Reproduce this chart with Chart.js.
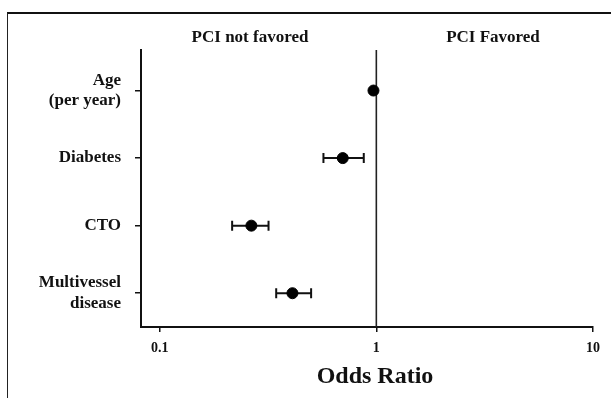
<!DOCTYPE html>
<html>
<head>
<meta charset="utf-8">
<style>
    html, body { margin: 0; padding: 0; background: #fff; }
    #frame {
        position: absolute; left: 7px; top: 12px; right: 0; bottom: 0;
        border-top: 2px solid #111; border-left: 1.5px solid #222;
    }
    #wrap { position: absolute; left: 0; top: 0; width: 611px; height: 398px; }
</style>
<script src="https://cdn.jsdelivr.net/npm/chart.js"></script>
</head>
<body>
<div id="frame"></div>
<div id="wrap"><canvas id="grafico"></canvas></div>
<script>
    // Fatores e odds ratios
    var fatores = [['Age', '(per year)'], 'Diabetes', 'CTO', ['Multivessel', 'disease']];
    var oddsRatio = [0.97, 0.70, 0.265, 0.41];
    var icInferior = [0.97, 0.57, 0.216, 0.345];
    var icSuperior = [0.97, 0.875, 0.318, 0.50];
    var ticksX = [0.1, 1, 10];

    var fonte = 'Liberation Serif, Times New Roman, serif';

    var pontos = oddsRatio.map(function(v, i) { return { x: v, y: i }; });

    // Barras de erro desenhadas pelas escalas
    var barrasErro = {
        id: 'barrasErro',
        beforeDatasetsDraw: function(chart) {
            var ctx = chart.ctx;
            var sx = chart.scales.x, sy = chart.scales.y;
            ctx.save();
            ctx.strokeStyle = '#111';
            ctx.lineWidth = 2;
            for (var i = 0; i < oddsRatio.length; i++) {
                if (icInferior[i] === icSuperior[i]) continue;
                var x1 = sx.getPixelForValue(icInferior[i]);
                var x2 = sx.getPixelForValue(icSuperior[i]);
                var y = sy.getPixelForValue(i);
                ctx.beginPath();
                ctx.moveTo(x1, y); ctx.lineTo(x2, y);
                ctx.moveTo(x1, y - 5); ctx.lineTo(x1, y + 5);
                ctx.moveTo(x2, y - 5); ctx.lineTo(x2, y + 5);
                ctx.stroke();
            }
            ctx.restore();
        }
    };

    // Textos: cabeçalhos e título do eixo
    var textos = {
        id: 'textos',
        afterDraw: function(chart) {
            var ctx = chart.ctx;
            var a = chart.chartArea;
            ctx.save();
            ctx.fillStyle = '#111';
            ctx.textAlign = 'center';
            ctx.textBaseline = 'middle';
            ctx.font = 'bold 17px ' + fonte;
            ctx.fillText('PCI not favored', a.left + 109, 38);
            ctx.fillText('PCI Favored', a.left + 352, 38);
            ctx.font = 'bold 24px ' + fonte;
            ctx.fillText('Odds Ratio', a.left + 234, 377);
            ctx.restore();
        }
    };

    new Chart(document.getElementById('grafico'), {
        type: 'scatter',
        data: {
            datasets: [{
                label: 'Odds ratio',
                data: pontos,
                backgroundColor: '#000',
                borderColor: '#000',
                pointRadius: 5.5,
                pointHoverRadius: 5.5
            }, {
                type: 'line',
                label: 'OR = 1',
                data: [{ x: 1, y: -0.62 }, { x: 1, y: 3.5 }],
                borderColor: '#222',
                borderWidth: 1.6,
                pointRadius: 0
            }]
        },
        options: {
            responsive: true,
            maintainAspectRatio: false,
            animation: false,
            layout: { padding: { left: 0, right: 18, top: 50, bottom: 41 } },
            plugins: {
                legend: { display: false },
                tooltip: { enabled: false }
            },
            scales: {
                x: {
                    type: 'logarithmic',
                    min: 0.082,
                    max: 10,
                    afterBuildTicks: function(scale) {
                        scale.ticks = ticksX.map(function(v) { return { value: v }; });
                    },
                    afterFit: function(scale) { scale.height = 30; },
                    ticks: {
                        color: '#111',
                        major: { enabled: false },
                        font: function() { return { family: fonte, size: 14, weight: 'bold' }; },
                        padding: 8,
                        maxRotation: 0,
                        callback: function(v) { return String(v); }
                    },
                    grid: { drawOnChartArea: false, color: '#111', lineWidth: 1.5, tickLength: 5 },
                    border: { display: true, color: '#111', width: 2 }
                },
                y: {
                    type: 'linear',
                    reverse: true,
                    min: -0.6,
                    max: 3.5,
                    afterBuildTicks: function(scale) {
                        scale.ticks = fatores.map(function(f, i) { return { value: i }; });
                    },
                    afterFit: function(scale) { scale.width = 141; },
                    ticks: {
                        color: '#111',
                        font: { family: fonte, size: 17, weight: 'bold', lineHeight: 1.2 },
                        padding: 14,
                        callback: function(v) { return fatores[v]; }
                    },
                    grid: { drawOnChartArea: false, color: '#111', lineWidth: 1.5, tickLength: 6 },
                    border: { display: true, color: '#111', width: 2 }
                }
            }
        },
        plugins: [barrasErro, textos]
    });
</script>
</body>
</html>
